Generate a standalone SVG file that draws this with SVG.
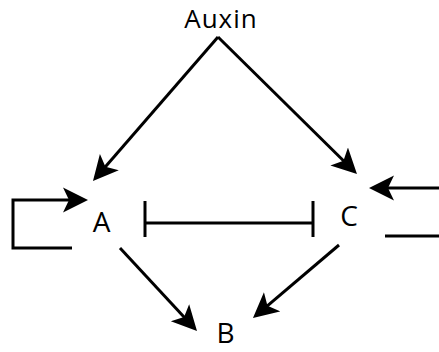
<svg xmlns="http://www.w3.org/2000/svg" width="439" height="352" viewBox="0 0 439 352">
  <style>
    .lbl { font-family: "Open Sans", "Noto Sans", sans-serif; font-size: 28px; fill: #000; text-anchor: middle; }
    .top { font-size: 26px; letter-spacing: 1px; }
    .edge { fill: none; stroke: #000; stroke-width: 3; }
  </style>
  <defs>
    <marker id="head" markerUnits="userSpaceOnUse" markerWidth="27" markerHeight="27" viewBox="0 -13 27 26" refX="10" refY="0" orient="auto">
      <path d="M25,0 L0,-12.5 L6,0 L0,12.5 Z" fill="#000"/>
    </marker>
  </defs>
  <rect width="439" height="352" fill="#fff"/>

  <g id="connectors">
    <line class="edge" x1="218" y1="37" x2="102.8" y2="169.7" marker-end="url(#head)"/>
    <line class="edge" x1="218" y1="37" x2="346.3" y2="163.5" marker-end="url(#head)"/>
    <line class="edge" x1="120" y1="248" x2="186.8" y2="320" marker-end="url(#head)"/>
    <line class="edge" x1="339" y1="245" x2="264.4" y2="308.3" marker-end="url(#head)"/>
    <polyline class="edge" points="72,248 13,248 13,200 73,200" marker-end="url(#head)"/>
    <line class="edge" x1="439" y1="188" x2="384" y2="188" marker-end="url(#head)"/>
    <line class="edge" x1="385" y1="236" x2="439" y2="236"/>
    <g id="inhibit">
      <line class="edge" x1="145" y1="223" x2="313" y2="223"/>
      <line class="edge" x1="145" y1="201" x2="145" y2="237"/>
      <line class="edge" x1="313" y1="201" x2="313" y2="237"/>
    </g>
  </g>

  <g id="auxin"><text class="lbl top" x="221" y="28">Auxin</text></g>
  <g id="A"><text class="lbl" x="101.5" y="232">A</text></g>
  <g id="C"><text class="lbl" x="349" y="226">C</text></g>
  <g id="B"><text class="lbl" x="225.5" y="343">B</text></g>
</svg>
